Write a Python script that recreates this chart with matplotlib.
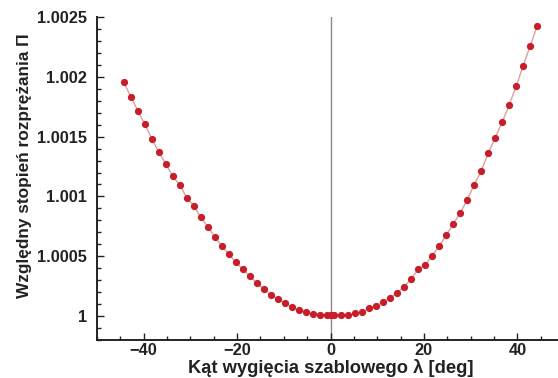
import matplotlib
matplotlib.use("Agg")
import matplotlib.pyplot as plt
from matplotlib.ticker import MultipleLocator, FuncFormatter

# =========================
# DATA
# =========================

angle_deg = [
    -44.25, -42.75, -41.25, -39.75, -38.25, -36.75, -35.25, -33.75, -32.25, -30.75,
    -29.25, -27.75, -26.25, -24.75, -23.25, -21.75, -20.25, -18.75, -17.25, -15.75,
    -14.25, -12.75, -11.25, -9.75, -8.25, -6.75, -5.25, -3.75, -2.25, -0.75,
    0.0,
    0.75, 2.25, 3.75, 5.25, 6.75, 8.25, 9.75, 11.25, 12.75, 14.25,
    15.75, 17.25, 18.75, 20.25, 21.75, 23.25, 24.75, 26.25, 27.75, 29.25,
    30.75, 32.25, 33.75, 35.25, 36.75, 38.25, 39.75, 41.25, 42.75, 44.25,
]

pressure_ratio = [
    1.001954, 1.001833, 1.001716, 1.001603, 1.001482, 1.001371, 1.001268, 1.001170, 1.001093, 1.000989,
    1.000920, 1.000825, 1.000747, 1.000660, 1.000585, 1.000516, 1.000451, 1.000390, 1.000332, 1.000276,
    1.000226, 1.000178, 1.000140, 1.000111, 1.000073, 1.000048, 1.000031, 1.000019, 1.000011, 1.000006,
    1.000005,
    1.000008, 1.000006, 1.000006, 1.000023, 1.000033, 1.000064, 1.000086, 1.000115, 1.000150, 1.000195,
    1.000245, 1.000307, 1.000390, 1.000426, 1.000504, 1.000583, 1.000675, 1.000769, 1.000859, 1.000972,
    1.001095, 1.001212, 1.001360, 1.001491, 1.001619, 1.001764, 1.001920, 1.002093, 1.002257, 1.002424,
]

x_label = "Kąt wygięcia szablowego λ [deg]"
y_label = "Względny stopień rozprężania Π"


def y_fmt(v, pos):
    return f"{v:.4f}".rstrip("0").rstrip(".")


# =========================
# PLOT
# =========================

plt.rcParams["font.family"] = ["Liberation Sans", "DejaVu Sans"]

fig = plt.figure(figsize=(5.58, 3.78), dpi=100)
ax = fig.add_axes([0.1738, 0.1005, 0.837, 0.8545])

ax.axvline(0, color="#8a8a8a", lw=1.0, zorder=1)
ax.plot(
    angle_deg,
    pressure_ratio,
    color="#dba0a0",
    lw=1.0,
    marker="o",
    markersize=4.2,
    markerfacecolor="#c81e2a",
    markeredgecolor="#c81e2a",
    zorder=3,
)

ax.set_xlim(-50, 50)
ax.set_ylim(0.9998, 1.0025)

ax.xaxis.set_major_locator(MultipleLocator(20))
ax.xaxis.set_minor_locator(MultipleLocator(5))
ax.yaxis.set_major_locator(MultipleLocator(0.0005))
ax.yaxis.set_minor_locator(MultipleLocator(0.0001))
ax.yaxis.set_major_formatter(FuncFormatter(y_fmt))

for side in ("top", "right"):
    ax.spines[side].set_visible(False)
for side in ("left", "bottom"):
    ax.spines[side].set_linewidth(1.4)
    ax.spines[side].set_color("#222222")

ax.tick_params(which="both", direction="in", color="#222222", width=1.0)
ax.tick_params(which="major", length=5)
ax.tick_params(which="minor", length=3)
ax.tick_params(axis="x", which="major", pad=2.5, labelsize=11.8)
ax.tick_params(axis="y", which="major", pad=7, labelsize=11.8)
for lbl in ax.get_xticklabels() + ax.get_yticklabels():
    lbl.set_fontweight("bold")
    lbl.set_color("#222222")

ax.set_xlabel(x_label, fontsize=13.2, fontweight="bold", color="#222222")
ax.xaxis.label.set_verticalalignment("baseline")
ax.xaxis.set_label_coords(0.5, -0.102)
ax.set_ylabel(y_label, fontsize=12.4, fontweight="bold", color="#222222")
ax.yaxis.set_label_coords(-0.14, 0.539)

fig.savefig("out.png", dpi=100)
